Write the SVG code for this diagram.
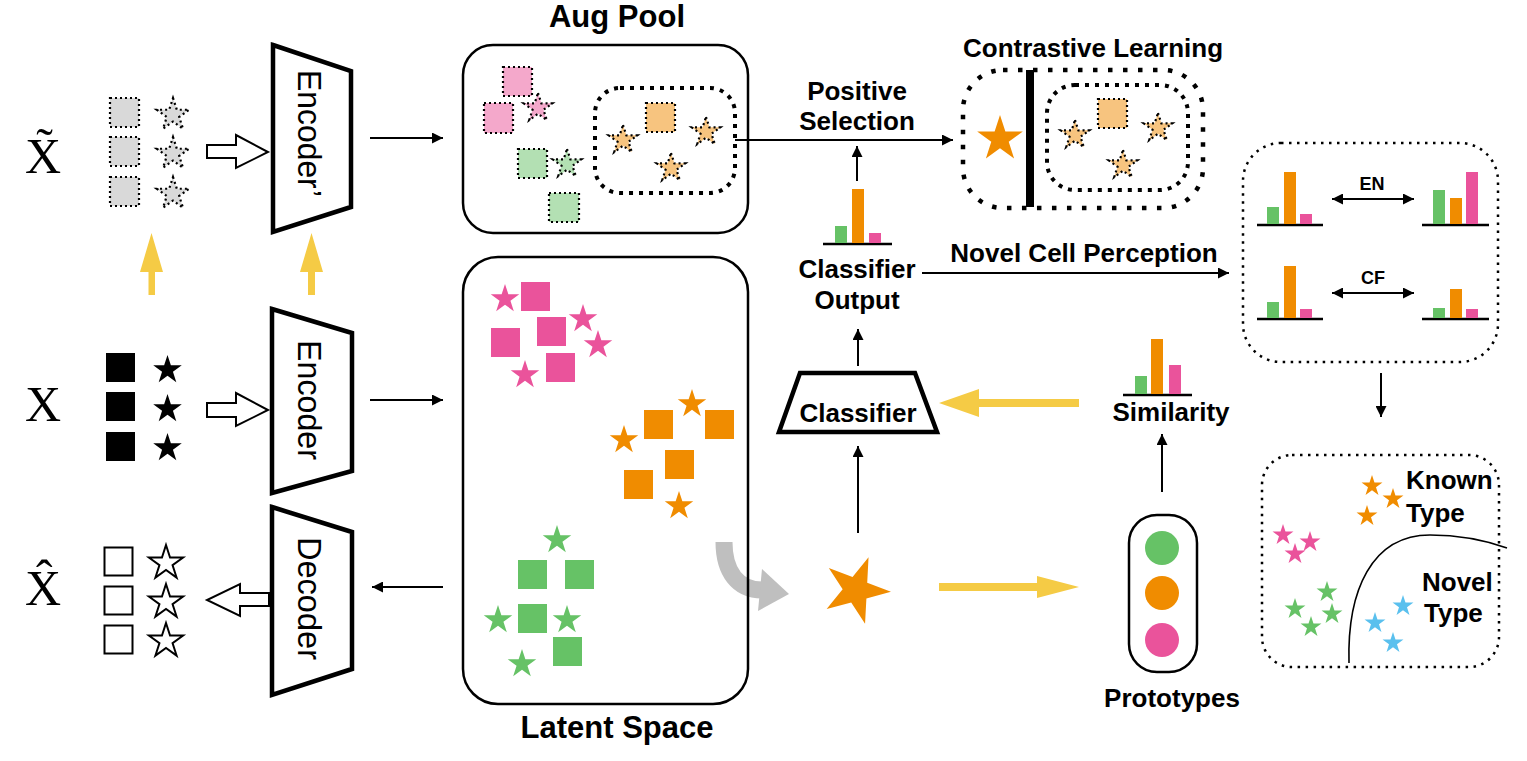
<svg xmlns="http://www.w3.org/2000/svg" width="1527" height="761" viewBox="0 0 1527 761">
<defs>
<path id="st" d="M0,-10 L2.245,-3.09 L9.511,-3.09 L3.633,1.18 L5.878,8.09 L0,3.82 L-5.878,8.09 L-3.633,1.18 L-9.511,-3.09 L-2.245,-3.09Z"/>
<marker id="ah" viewBox="0 0 10 10" refX="10" refY="5" markerUnits="userSpaceOnUse" markerWidth="13" markerHeight="11" orient="auto-start-reverse"><path d="M0,0 L10,5 L0,10 Z" fill="#000"/></marker>
</defs>
<style>
text{font-family:"Liberation Sans",Arial,sans-serif;fill:#000}
.b{font-weight:bold;font-size:26px}
.bt{font-weight:bold;font-size:31px}
.sm{font-weight:bold;font-size:18px}
.enc{font-size:34px}
.serif{font-family:"Liberation Serif","Times New Roman",serif;font-size:50px}
.trap{fill:#fff;stroke:#000;stroke-width:4.5;stroke-linejoin:miter}
.box{fill:none;stroke:#000;stroke-width:2.5}
.ln{stroke:#000;stroke-width:2;fill:none}
.hol{fill:#fff;stroke:#000;stroke-width:2}
.yel{fill:#f5cb45}
.pk{fill:#ea539b}.or{fill:#f08c00}.gr{fill:#66c266}.bl{fill:#5ac0ee}
.dsq{stroke:#000;stroke-width:2.2;stroke-dasharray:2 3}
.dst{stroke:#000;stroke-width:1.45;stroke-dasharray:1.35 2}
.dstx{stroke:#000;stroke-width:1.3;stroke-dasharray:1.2 1.8}
.lpk{fill:#f4a8cb}.lgr{fill:#b3e0b3}.lor{fill:#f7c47f}.lgy{fill:#d9d9d9}
.heavy{fill:none;stroke:#000;stroke-width:4;stroke-dasharray:4 6}
.heavy2{fill:none;stroke:#000;stroke-width:4.5;stroke-dasharray:4.5 10.5}
.dotb{fill:none;stroke:#000;stroke-width:2.5;stroke-dasharray:2.5 5.5}
.base{stroke:#000;stroke-width:2.5}
</style>

<g id="inputs-aug">
<text class="serif" x="43" y="173" text-anchor="middle">X&#x303;</text>
<rect class="lgy dsq" x="110" y="98" width="29" height="29"/>
<rect class="lgy dsq" x="110" y="137" width="29" height="29"/>
<rect class="lgy dsq" x="110" y="177" width="29" height="29"/>
<use href="#st" class="lgy dstx" transform="translate(173,115) scale(1.7)"/>
<use href="#st" class="lgy dstx" transform="translate(173,154) scale(1.7)"/>
<use href="#st" class="lgy dstx" transform="translate(173,194) scale(1.7)"/>
</g>

<g id="inputs">
<text class="serif" x="43" y="421" text-anchor="middle">X</text>
<rect x="106" y="353" width="29" height="29" fill="#000"/>
<rect x="106" y="392" width="29" height="29" fill="#000"/>
<rect x="106" y="432" width="29" height="29" fill="#000"/>
<use href="#st" fill="#000" transform="translate(167.5,370) scale(1.5)"/>
<use href="#st" fill="#000" transform="translate(167.5,409) scale(1.5)"/>
<use href="#st" fill="#000" transform="translate(167.5,448) scale(1.5)"/>
</g>

<g id="reconstruction">
<text class="serif" x="43" y="605" text-anchor="middle">X&#x302;</text>
<rect x="104.5" y="547.5" width="28" height="28" fill="#fff" stroke="#000" stroke-width="2"/>
<rect x="104.5" y="586.5" width="28" height="28" fill="#fff" stroke="#000" stroke-width="2"/>
<rect x="104.5" y="625.5" width="28" height="28" fill="#fff" stroke="#000" stroke-width="2"/>
<use href="#st" fill="#fff" stroke="#000" stroke-width="1.1" transform="translate(166,563) scale(1.8)"/>
<use href="#st" fill="#fff" stroke="#000" stroke-width="1.1" transform="translate(166,602) scale(1.8)"/>
<use href="#st" fill="#fff" stroke="#000" stroke-width="1.1" transform="translate(166,641) scale(1.8)"/>
</g>

<g id="encoder-aug">
<polygon class="trap" points="273,45 351,71 351,207 273,232"/>
<text class="enc" transform="translate(298,133.5) rotate(90)" text-anchor="middle" textLength="127" lengthAdjust="spacingAndGlyphs">Encoder’</text>
</g>
<g id="encoder">
<polygon class="trap" points="272,309 352,333 352,471 272,493"/>
<text class="enc" transform="translate(298,400) rotate(90)" text-anchor="middle" textLength="120" lengthAdjust="spacingAndGlyphs">Encoder</text>
</g>
<g id="decoder">
<polygon class="trap" points="272,507 352,532 352,669 272,695"/>
<text class="enc" transform="translate(298,598.5) rotate(90)" text-anchor="middle" textLength="123" lengthAdjust="spacingAndGlyphs">Decoder</text>
</g>

<g id="aug-pool">
<text class="bt" x="617" y="27" text-anchor="middle">Aug Pool</text>
<rect class="box" x="463" y="45" width="285" height="188" rx="30"/>
<rect class="lpk dsq" x="503" y="67" width="29" height="29"/>
<rect class="lpk dsq" x="484" y="103" width="29" height="30"/>
<use href="#st" class="lpk dst" transform="translate(538,108) scale(1.5)"/>
<rect class="lgr dsq" x="518" y="149" width="29" height="29"/>
<use href="#st" class="lgr dst" transform="translate(567,164) scale(1.5)"/>
<rect class="lgr dsq" x="549" y="193" width="30" height="29"/>
<rect class="heavy" x="595" y="88" width="140" height="105" rx="25"/>
<rect class="lor dsq" x="646" y="103" width="29" height="29"/>
<use href="#st" class="lor dst" transform="translate(623,140) scale(1.5)"/>
<use href="#st" class="lor dst" transform="translate(706,132) scale(1.5)"/>
<use href="#st" class="lor dst" transform="translate(671,168) scale(1.5)"/>
</g>

<g id="positive-selection">
<text class="b" x="857" y="100" text-anchor="middle">Positive</text>
<text class="b" x="857" y="130" text-anchor="middle">Selection</text>
</g>

<g id="contrastive-learning">
<text class="b" x="1093" y="57" text-anchor="middle">Contrastive Learning</text>
<rect class="heavy2" x="963" y="70" width="240" height="138" rx="40"/>
<rect class="heavy" x="1047" y="85" width="141" height="105" rx="28"/>
<line x1="1030" y1="70" x2="1030" y2="207" stroke="#000" stroke-width="8"/>
<use href="#st" class="or" transform="translate(1000,139) scale(2.4)"/>
<rect class="lor dsq" x="1098" y="99" width="29" height="29"/>
<use href="#st" class="lor dst" transform="translate(1075,135) scale(1.5)"/>
<use href="#st" class="lor dst" transform="translate(1158,128) scale(1.5)"/>
<use href="#st" class="lor dst" transform="translate(1123,165) scale(1.5)"/>
</g>

<g id="classifier-output">
<line class="base" x1="823" y1="244" x2="892" y2="244"/>
<rect class="gr" x="835" y="226" width="12" height="17"/>
<rect class="or" x="852" y="189" width="12" height="54"/>
<rect class="pk" x="869" y="233" width="12" height="10"/>
<text class="b" x="857" y="278" text-anchor="middle">Classifier</text>
<text class="b" x="857" y="309" text-anchor="middle">Output</text>
</g>

<g id="classifier">
<polygon points="800,373 915,373 937,432 779,432" fill="#fff" stroke="#000" stroke-width="4.5"/>
<text class="b" x="858" y="422" text-anchor="middle">Classifier</text>
</g>

<g id="similarity">
<line class="base" x1="1123" y1="395" x2="1192" y2="395"/>
<rect class="gr" x="1135" y="376" width="12" height="18"/>
<rect class="or" x="1151" y="339" width="12" height="55"/>
<rect class="pk" x="1169" y="365" width="12" height="29"/>
<text class="b" x="1171" y="421" text-anchor="middle">Similarity</text>
</g>

<g id="prototypes">
<rect class="box" x="1129" y="515" width="68" height="157" rx="28"/>
<circle class="gr" cx="1162" cy="548" r="17"/>
<circle class="or" cx="1162" cy="593" r="17"/>
<circle class="pk" cx="1162" cy="640" r="17"/>
<text class="b" x="1172" y="707" text-anchor="middle">Prototypes</text>
</g>

<g id="query-cell">
<use href="#st" class="or" transform="translate(856,590) rotate(21) scale(3.5)"/>
</g>

<g id="latent-space">
<path d="M724,542 C724,572 738,590 762,590" fill="none" stroke="#bfbfbf" stroke-width="17"/>
<polygon points="762,569 789,594 758,611" fill="#bfbfbf"/>
<rect class="box" x="463" y="257" width="285" height="447" rx="35"/>
<text class="bt" x="617" y="738" text-anchor="middle">Latent Space</text>
<use href="#st" class="pk" transform="translate(505,299) scale(1.5)"/>
<rect class="pk" x="521" y="282" width="29" height="29"/>
<rect class="pk" x="537" y="317" width="29" height="29"/>
<rect class="pk" x="491" y="328" width="29" height="29"/>
<use href="#st" class="pk" transform="translate(583,319) scale(1.5)"/>
<use href="#st" class="pk" transform="translate(598,345) scale(1.5)"/>
<rect class="pk" x="546" y="353" width="29" height="29"/>
<use href="#st" class="pk" transform="translate(525,375) scale(1.5)"/>
<use href="#st" class="or" transform="translate(692,404) scale(1.5)"/>
<rect class="or" x="644" y="410" width="29" height="29"/>
<rect class="or" x="705" y="410" width="29" height="29"/>
<use href="#st" class="or" transform="translate(624,440) scale(1.5)"/>
<rect class="or" x="665" y="450" width="29" height="29"/>
<rect class="or" x="624" y="470" width="29" height="29"/>
<use href="#st" class="or" transform="translate(679,506) scale(1.5)"/>
<use href="#st" class="gr" transform="translate(557,540) scale(1.5)"/>
<rect class="gr" x="518" y="560" width="29" height="29"/>
<rect class="gr" x="565" y="560" width="29" height="29"/>
<use href="#st" class="gr" transform="translate(498,620) scale(1.5)"/>
<rect class="gr" x="518" y="604" width="29" height="29"/>
<use href="#st" class="gr" transform="translate(567,620) scale(1.5)"/>
<rect class="gr" x="553" y="637" width="29" height="29"/>
<use href="#st" class="gr" transform="translate(522,664) scale(1.5)"/>
</g>

<g id="novel-cell-perception">
<text class="b" x="1084" y="262" text-anchor="middle">Novel Cell Perception</text>
<rect class="dotb" x="1243" y="143" width="255" height="219" rx="38"/>
<line class="base" x1="1257" y1="225" x2="1323" y2="225"/>
<rect class="gr" x="1267" y="207" width="12" height="17"/>
<rect class="or" x="1284" y="172" width="12" height="52"/>
<rect class="pk" x="1300" y="214" width="12" height="10"/>
<line class="base" x1="1422" y1="225" x2="1489" y2="225"/>
<rect class="gr" x="1433" y="190" width="12" height="34"/>
<rect class="or" x="1450" y="198" width="12" height="26"/>
<rect class="pk" x="1466" y="172" width="12" height="52"/>
<line class="base" x1="1257" y1="319" x2="1323" y2="319"/>
<rect class="gr" x="1267" y="302" width="12" height="16"/>
<rect class="or" x="1284" y="266" width="12" height="52"/>
<rect class="pk" x="1300" y="309" width="12" height="9"/>
<line class="base" x1="1422" y1="319" x2="1489" y2="319"/>
<rect class="gr" x="1433" y="308" width="12" height="10"/>
<rect class="or" x="1450" y="289" width="12" height="29"/>
<rect class="pk" x="1466" y="309" width="12" height="9"/>
<text class="sm" x="1372" y="190" text-anchor="middle">EN</text>
<text class="sm" x="1373" y="284" text-anchor="middle">CF</text>
</g>

<g id="type-space">
<rect class="dotb" x="1262" y="455" width="237" height="212" rx="30"/>
<path d="M1349,663 C1347,590 1372,535 1430,535 C1462,535 1490,542 1507,548" fill="none" stroke="#000" stroke-width="1.6"/>
<use href="#st" class="or" transform="translate(1372,486) scale(1.1)"/>
<use href="#st" class="or" transform="translate(1393,499) scale(1.1)"/>
<use href="#st" class="or" transform="translate(1367,516) scale(1.1)"/>
<use href="#st" class="pk" transform="translate(1283,535) scale(1.1)"/>
<use href="#st" class="pk" transform="translate(1310,542) scale(1.1)"/>
<use href="#st" class="pk" transform="translate(1295,554) scale(1.1)"/>
<use href="#st" class="gr" transform="translate(1327,592) scale(1.1)"/>
<use href="#st" class="gr" transform="translate(1295,609) scale(1.1)"/>
<use href="#st" class="gr" transform="translate(1332,614) scale(1.1)"/>
<use href="#st" class="gr" transform="translate(1311,627) scale(1.1)"/>
<use href="#st" class="bl" transform="translate(1403,606) scale(1.1)"/>
<use href="#st" class="bl" transform="translate(1375,623) scale(1.1)"/>
<use href="#st" class="bl" transform="translate(1393,643) scale(1.1)"/>
<text class="b" x="1406" y="489">Known</text>
<text class="b" x="1406" y="522">Type</text>
<text class="b" x="1422" y="591">Novel</text>
<text class="b" x="1424" y="622">Type</text>
</g>

<g id="connectors">
<polygon class="hol" points="207,145 236,145 236,135 268,152 236,168 236,158 207,158"/>
<polygon class="hol" points="207,403 236,403 236,393 268,410 236,426 236,417 207,417"/>
<polygon class="hol" points="269,593 240,593 240,584 207,600 240,616 240,606 269,606"/>
<polygon class="yel" points="148.5,295 148.5,272 140,272 151.5,233 163,272 155,272 155,295"/>
<polygon class="yel" points="308,295 308,272 300,272 311.5,233 323,272 315,272 315,295"/>
<polygon class="yel" points="1079,399 979,399 979,389 939,403 979,417 979,407 1079,407"/>
<polygon class="yel" points="939,583 1037,583 1037,576 1079,587 1037,598 1037,591 939,591"/>
<line class="ln" x1="370" y1="138" x2="443" y2="138" marker-end="url(#ah)"/>
<line class="ln" x1="370" y1="400" x2="443" y2="400" marker-end="url(#ah)"/>
<line class="ln" x1="443" y1="587" x2="372" y2="587" marker-end="url(#ah)"/>
<line class="ln" x1="735" y1="140" x2="953" y2="140" marker-end="url(#ah)"/>
<line class="ln" x1="857" y1="181" x2="857" y2="146" marker-end="url(#ah)"/>
<line class="ln" x1="922" y1="273" x2="1229" y2="273" marker-end="url(#ah)"/>
<line class="ln" x1="858" y1="366" x2="858" y2="329" marker-end="url(#ah)"/>
<line class="ln" x1="858" y1="533" x2="858" y2="446" marker-end="url(#ah)"/>
<line class="ln" x1="1162" y1="492" x2="1162" y2="434" marker-end="url(#ah)"/>
<line class="ln" x1="1381" y1="373" x2="1381" y2="417" marker-end="url(#ah)"/>
<line class="ln" x1="1332" y1="199" x2="1414" y2="199" stroke-width="2.5" marker-start="url(#ah)" marker-end="url(#ah)"/>
<line class="ln" x1="1332" y1="293" x2="1414" y2="293" stroke-width="2.5" marker-start="url(#ah)" marker-end="url(#ah)"/>
</g>
</svg>
